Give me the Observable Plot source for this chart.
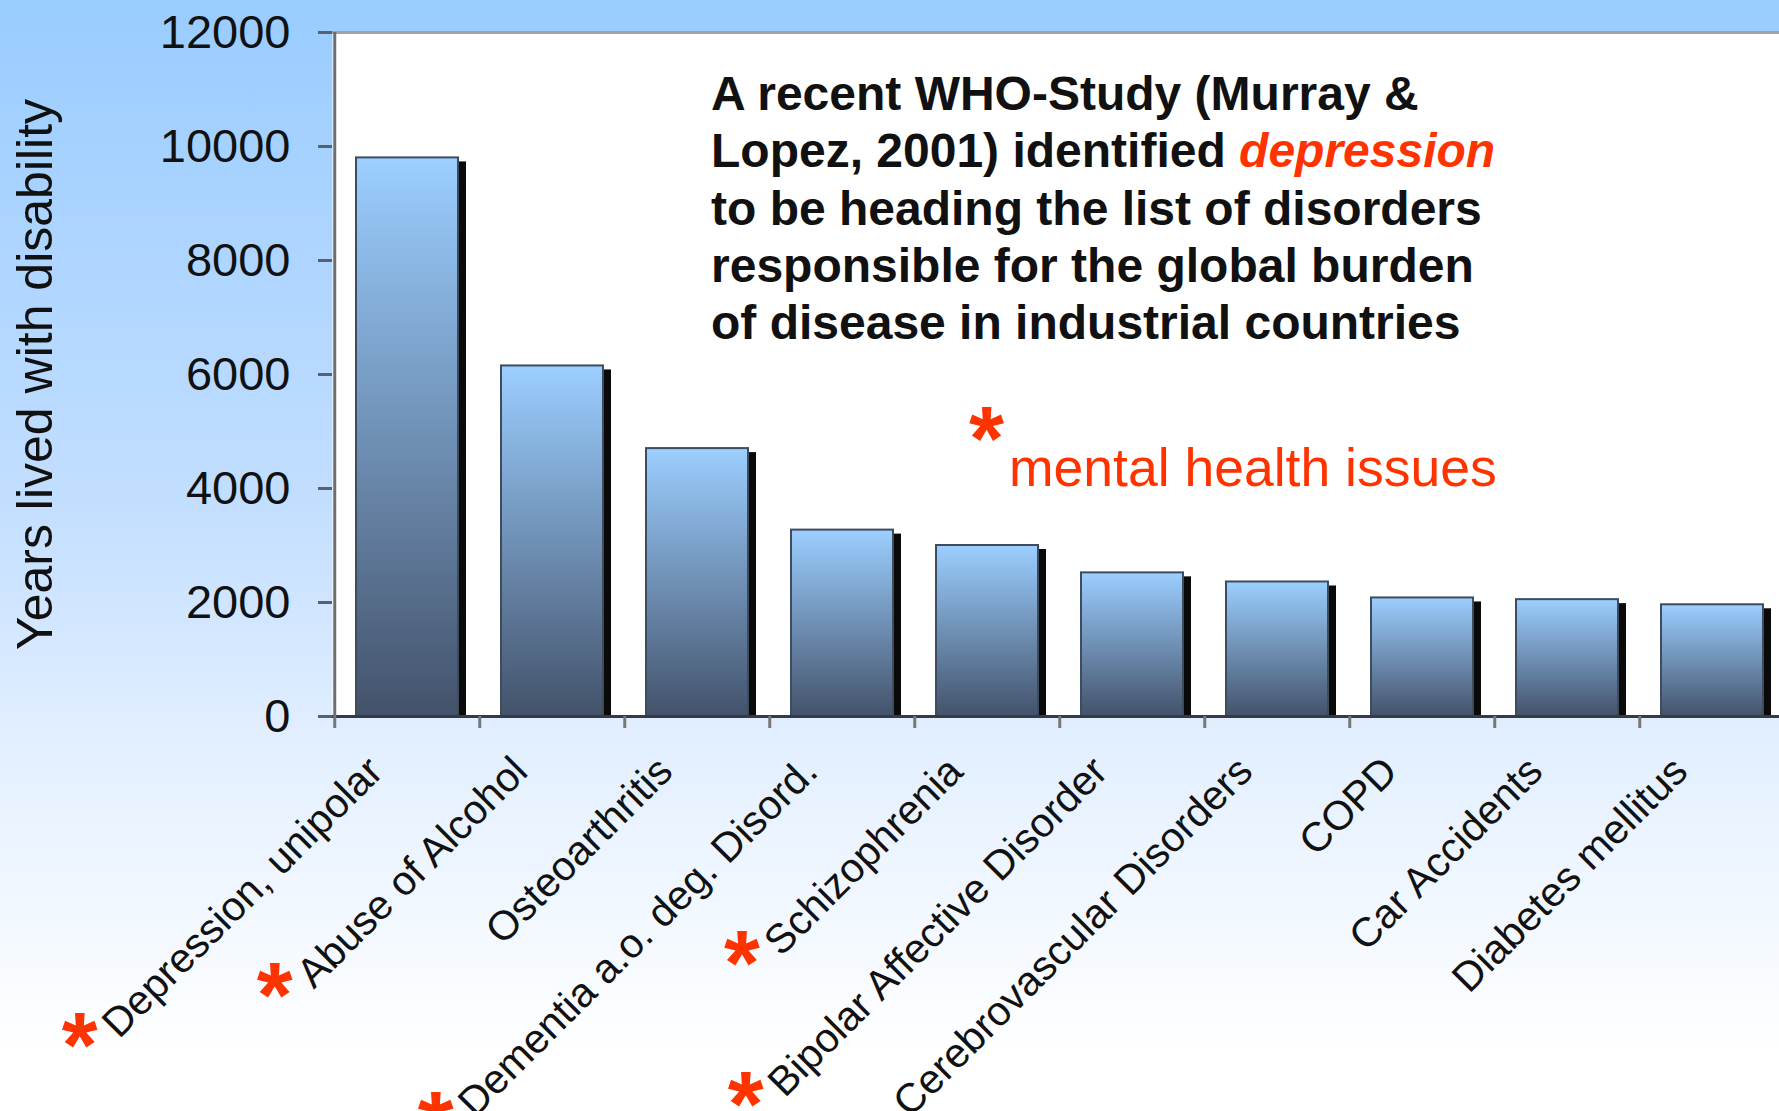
<!DOCTYPE html>
<html><head><meta charset="utf-8">
<script src="https://cdn.jsdelivr.net/npm/d3@7"></script>
<script src="https://cdn.jsdelivr.net/npm/@observablehq/plot@0.6"></script>
<style>
html,body{margin:0;padding:0;overflow:hidden;background:#fff;}
#wrap{position:relative;width:1779px;height:1111px;overflow:hidden;
  background:linear-gradient(to bottom,#99ccff 0%,#c2deff 45%,#e4f0ff 68%,#ffffff 95%);
  font-family:"Liberation Sans",Arial,sans-serif;}
#overlay{position:absolute;left:0;top:0;pointer-events:none;}
</style></head><body><div id="wrap"></div>
<script>
// ---- data ----
const categories = ["Depression, unipolar","Abuse of Alcohol","Osteoarthritis","Dementia a.o. deg. Disord.","Schizophrenia","Bipolar Affective Disorder","Cerebrovascular Disorders","COPD","Car Accidents","Diabetes mellitus"];
const values = [9800, 6150, 4700, 3270, 3000, 2520, 2360, 2080, 2050, 1960];
const mentalHealth = ["Depression, unipolar","Abuse of Alcohol","Dementia a.o. deg. Disord.","Schizophrenia","Bipolar Affective Disorder"];
const yTicks = [0, 2000, 4000, 6000, 8000, 10000, 12000];
const yLabel = "Years lived with disability";
const noteLines = [
  ["A recent WHO-Study (Murray &", ""],
  ["Lopez, 2001) identified ", "depression"],
  ["to be heading the list of disorders", ""],
  ["responsible for the global burden", ""],
  ["of disease in industrial countries", ""]
];
const legendText = "mental health issues";

// ---- chart ----
const W = 1779, H = 1111;
const xRange = [332, 1787];
const half = (xRange[1] - xRange[0]) / categories.length / 2;
const data = categories.map((c, i) => ({category: c, value: values[i]}));

const plot = Plot.plot({
  width: W, height: H,
  marginLeft: 332, marginTop: 32, marginBottom: 395, marginRight: 0,
  style: {background: "transparent", fontFamily: "'Liberation Sans', Arial, sans-serif", color: "#111", overflow: "hidden"},
  x: {domain: categories, range: xRange, paddingInner: 0.3, paddingOuter: 0.15, label: null},
  y: {domain: [0, 12000], label: null},
  marks: [
    Plot.frame({fill: "white", stroke: null}),
    Plot.ruleY([12000], {stroke: "#a3a3a3", strokeWidth: 3}),
    Plot.barY(data, {x: "category", y: "value", fill: "#0a0a0a", dx: 8, dy: 4, insetBottom: 4}),
    Plot.barY(data, {x: "category", y: "value", fill: "url(#barGrad)", stroke: "#3d4c5f", strokeWidth: 2}),
    Plot.ruleY([0], {stroke: "#353b45", strokeWidth: 3}),
    Plot.ruleX([categories[0]], {dx: -half, stroke: "#6e6e6e", strokeWidth: 3}),
    Plot.axisX({tickSize: 12, dx: -half, tickFormat: () => "", stroke: "#777", strokeWidth: 3, label: null}),
    Plot.axisY({ticks: yTicks, tickFormat: d => String(d), tickSize: 14, tickPadding: 28, fontSize: 47, stroke: "#5a6070", strokeWidth: 3,
      label: yLabel, labelAnchor: "center", labelOffset: 316, labelArrow: "none"}),
    Plot.axisX({tickSize: 0, tickRotate: -45, tickPadding: 48, dx: -32, fontSize: 41, label: null})
  ]
});

const svg = d3.select(plot);
const defs = svg.insert("defs", ":first-child");
const grad = defs.append("linearGradient").attr("id", "barGrad")
  .attr("x1", 0).attr("y1", 0).attr("x2", 0).attr("y2", 1);
grad.append("stop").attr("offset", "0%").attr("stop-color", "#9dcfff");
grad.append("stop").attr("offset", "6%").attr("stop-color", "#96c7f7");
grad.append("stop").attr("offset", "100%").attr("stop-color", "#43526a");

svg.selectAll('g[aria-label="y-axis label"] text').attr("font-size", 50);

// red upright asterisks in front of mental-health labels
svg.selectAll('g[aria-label="x-axis tick label"] text').each(function() {
  const t = this.textContent;
  if (!mentalHealth.includes(t)) return;
  const el = d3.select(this);
  el.text(null);
  el.append("tspan").text("*").attr("fill", "#ff3300").attr("font-size", 92).attr("font-weight", "bold")
    .attr("rotate", 45).attr("dy", -14);
  el.append("tspan").text(t).attr("dx", 31).attr("dy", 14);
});

document.getElementById("wrap").appendChild(plot);

// ---- annotations ----
const ov = d3.select("#wrap").append("svg").attr("id", "overlay").attr("width", W).attr("height", H)
  .style("font-family", "'Liberation Sans', Arial, sans-serif");
noteLines.forEach(([a, b], i) => {
  const tx = ov.append("text").attr("x", 711).attr("y", 110 + i * 57.3)
    .attr("font-size", 48).attr("font-weight", "bold").attr("fill", "#111");
  tx.append("tspan").text(a);
  if (b) tx.append("tspan").text(b).attr("fill", "#ff3300").attr("font-style", "italic");
});
ov.append("text").attr("x", 969).attr("y", 470).attr("font-size", 90).attr("font-weight", "bold")
  .attr("fill", "#ff3300").text("*");
ov.append("text").attr("x", 1009).attr("y", 486).attr("font-size", 53.5).attr("fill", "#ff3300").text(legendText);
</script></body></html>
